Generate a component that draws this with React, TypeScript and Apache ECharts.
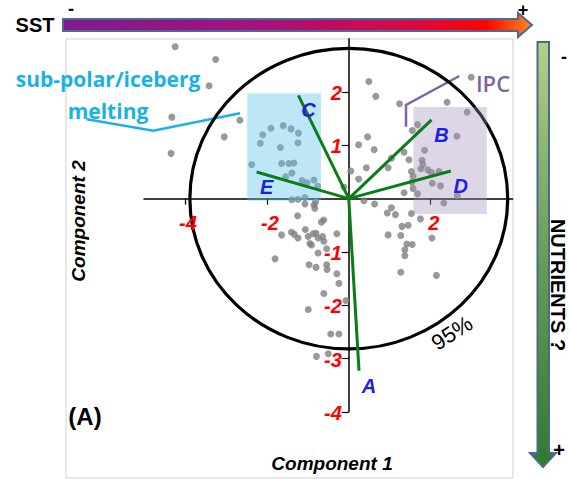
import React, { useEffect, useRef } from 'react';
import * as echarts from 'echarts';

// PCA sample scores (Component 1, Component 2)
const comp1 = [
  -4.24, -3.25, -3.41, -4.32, -2.66, -3.04, -4.34, -2.37,
  -2.10, -1.90, -1.60, -1.41, -1.23, -2.16, -1.24, -1.67, -1.64, -1.46, -1.34, -1.39, -1.54,
  -1.14, -1.02, -0.85, -0.76, -1.39, -1.24, -1.07, -0.81, -0.12, 0.05,
  -1.25, -1.07, -0.85, -0.83, -0.61, -0.67, -1.64, -1.40, -1.33, -1.24, -1.06, -0.99, -0.87,
  -0.80, -0.95, -0.91, -0.75, -0.64, -0.61, -0.29, -0.54, -0.75, -1.80, -0.97, -0.80, -0.54,
  -0.53, -0.29, -0.24, -0.61, -0.07, -0.99, -0.44, -0.24, -0.79, -0.50,
  0.49, 0.66, 1.24, 2.40, 2.99, 2.89, 1.68, 1.55, 2.64, 0.46, 0.24, 0.62, 1.85, 1.35, 1.04,
  1.47, 1.79, 1.81, 1.76, 1.93, 2.02, 0.43, 0.96, 1.53, 1.57, 2.20, 0.24, 1.54, 2.04, 2.24,
  1.57, 1.68, 1.35, 2.65, 0.37,
  0.63, 1.04, 0.94, 1.14, 1.53, 1.75, 2.32, 1.30, 1.45, 0.96, 1.27, 1.42, 1.55, 1.37, 1.37,
  2.03, 1.27, 2.14,
];
const comp2 = [
  2.85, 2.61, 2.12, 1.53, 1.47, 1.16, 0.85, 0.64,
  1.20, 1.32, 1.37, 1.31, 1.23, 1.04, 1.05, 0.96, 0.66, 0.66, 0.67, 0.48, 0.41,
  0.34, 0.30, 0.35, 0.23, -0.02, -0.01, 0.02, -0.06, 0.22, 0.52,
  -0.32, -0.10, -0.12, -0.18, -0.40, -0.44, -0.68, -0.63, -0.67, -0.74, -0.58, -0.71, -0.66,
  -0.65, -0.84, -0.87, -0.74, -0.71, -0.80, -0.66, -0.94, -1.02, -1.13, -1.24, -1.29, -1.24,
  -1.33, -1.41, -1.59, -1.78, -1.91, -2.08, -2.54, -2.54, -2.96, -2.91,
  2.20, 1.92, 1.78, 1.81, 2.28, 1.62, 1.39, 1.28, 1.17, 1.16, 1.01, 0.92, 0.91, 0.87, 0.76,
  0.73, 0.72, 0.64, 0.56, 0.54, 0.49, 0.58, 0.58, 0.51, 0.42, 0.51, 0.37, 0.31, 0.29, 0.24,
  0.19, 0.09, 0.11, 0.06, -0.04,
  -0.10, -0.17, -0.27, -0.30, -0.28, -0.38, -0.08, -0.52, -0.50, -0.68, -0.69, -0.85, -0.86, -0.96, -1.07,
  -0.74, -1.38, -1.44,
];

// Loading vectors
const vectorNames = ['A', 'B', 'C', 'D', 'E'];
const vectorX = [0.25, 2.02, -1.23, 2.49, -2.25];
const vectorY = [-3.23, 1.48, 1.94, 0.52, 0.5];

// 95% ellipse semi-axes (data units)
const ellipseRadii = [3.88, 2.82];

// Highlighted groups (boxes)
const boxNames = ['sub-polar/iceberg melting', 'IPC'];
const boxX0 = [-2.48, 1.58];
const boxX1 = [-0.68, 3.37];
const boxY0 = [-0.04, -0.29];
const boxY1 = [1.98, 1.72];

// Tick labels
const xTicks = [-4, -2, 2];
const yTicks = [-4, -3, -2, -1, 1, 2];

const boxColors = ['rgba(90,195,235,0.40)', 'rgba(158,141,189,0.36)'];
const FONT = '"Liberation Sans", Arial, sans-serif';

const tickTextStyle = {
  fill: '#FF0000',
  fontSize: 20,
  fontWeight: 'bold',
  fontStyle: 'italic',
  fontFamily: FONT,
  verticalAlign: 'middle',
};

export default function App() {
  const ref = useRef<HTMLDivElement>(null);
  useEffect(() => {
    if (!ref.current) return;
    const chart = echarts.init(ref.current, null, { renderer: 'svg' });
    const option: any = {
      animation: false,
      backgroundColor: '#ffffff',
      grid: { left: 144, top: 38.8, width: 368.6, height: 373 },
      xAxis: {
        type: 'value',
        min: -5,
        max: 4,
        z: 1,
        axisLine: { onZero: true, lineStyle: { color: '#000', width: 1.5 } },
        axisTick: { show: true, length: 6, customValues: xTicks, lineStyle: { color: '#000', width: 1.2 } },
        axisLabel: { show: false },
        splitLine: { show: false },
      },
      yAxis: {
        type: 'value',
        min: -4,
        max: 3,
        z: 1,
        axisLine: { onZero: true, lineStyle: { color: '#000', width: 1.5 } },
        axisTick: { show: true, length: 7, customValues: yTicks, lineStyle: { color: '#000', width: 1.2 } },
        axisLabel: { show: false },
        splitLine: { show: false },
      },
      series: [
        {
          type: 'custom',
          name: '95%',
          z: 2,
          data: [ellipseRadii],
          renderItem: (params: any, api: any) => {
            const c = api.coord([0, 0]);
            const s = api.size([api.value(0), api.value(1)]);
            return {
              type: 'ellipse',
              shape: { cx: c[0], cy: c[1], rx: s[0], ry: s[1] },
              style: { fill: 'none', stroke: '#000', lineWidth: 3.2 },
            };
          },
        },
        {
          type: 'scatter',
          name: 'samples',
          z: 3,
          symbolSize: 7,
          itemStyle: { color: '#808080' },
          data: comp1.map((x, i) => [x, comp2[i]]),
        },
        {
          type: 'custom',
          name: 'groups',
          z: 4,
          data: boxX0.map((x, i) => [x, boxY0[i], boxX1[i], boxY1[i]]),
          renderItem: (params: any, api: any) => {
            const p0 = api.coord([api.value(0), api.value(3)]);
            const p1 = api.coord([api.value(2), api.value(1)]);
            return {
              type: 'rect',
              name: boxNames[params.dataIndex],
              shape: { x: p0[0], y: p0[1], width: p1[0] - p0[0], height: p1[1] - p0[1] },
              style: { fill: boxColors[params.dataIndex] },
            };
          },
        },
        {
          type: 'custom',
          name: 'loadings',
          z: 5,
          data: vectorX.map((x, i) => [x, vectorY[i]]),
          renderItem: (params: any, api: any) => {
            const o = api.coord([0, 0]);
            const e = api.coord([api.value(0), api.value(1)]);
            return {
              type: 'group',
              children: [
                {
                  type: 'line',
                  shape: { x1: o[0], y1: o[1], x2: e[0], y2: e[1] },
                  style: { stroke: '#0B7D16', lineWidth: 3 },
                },
                {
                  type: 'text',
                  x: e[0] + 10,
                  y: e[1] + 15,
                  style: {
                    text: vectorNames[params.dataIndex],
                    fill: '#1E1EE6',
                    fontSize: 20,
                    fontWeight: 'bold',
                    fontStyle: 'italic',
                    fontFamily: FONT,
                    align: 'center',
                    verticalAlign: 'middle',
                  },
                },
              ],
            };
          },
        },
        {
          type: 'custom',
          name: 'xTickLabels',
          z: 6,
          data: xTicks.map((v) => [v, 0]),
          renderItem: (params: any, api: any) => {
            const p = api.coord([api.value(0), 0]);
            return {
              type: 'text',
              x: p[0] + 3,
              y: p[1] + 24,
              style: { ...tickTextStyle, text: String(xTicks[params.dataIndex]), align: 'center' },
            };
          },
        },
        {
          type: 'custom',
          name: 'yTickLabels',
          z: 6,
          data: yTicks.map((v) => [0, v]),
          renderItem: (params: any, api: any) => {
            const p = api.coord([0, api.value(1)]);
            return {
              type: 'text',
              x: p[0] - 7,
              y: p[1] + 1,
              style: { ...tickTextStyle, text: String(yTicks[params.dataIndex]), align: 'right' },
            };
          },
        },
      ],
      graphic: [
        {
          type: 'rect',
          z: -1,
          shape: { x: 66, y: 39, width: 447, height: 439 },
          style: { fill: 'none', stroke: '#D0D0D0', lineWidth: 1 },
        },
        {
          type: 'polygon',
          shape: {
            points: [[63, 19], [518, 19], [518, 13], [532, 25], [518, 37], [518, 31], [63, 31]],
          },
          style: {
            fill: new echarts.graphic.LinearGradient(0, 0, 1, 0, [
              { offset: 0, color: '#7E1C8C' },
              { offset: 0.45, color: '#A8107A' },
              { offset: 0.75, color: '#DC0840' },
              { offset: 0.9, color: '#FF0000' },
              { offset: 1, color: '#FF8A1E' },
            ]),
            stroke: '#4B6A92',
            lineWidth: 2,
          },
        },
        {
          type: 'polygon',
          shape: {
            points: [[537.5, 42], [549, 42], [549, 453], [556, 453], [543, 467], [530, 453], [537.5, 453]],
          },
          style: {
            fill: new echarts.graphic.LinearGradient(0, 0, 0, 1, [
              { offset: 0, color: '#B4CF8A' },
              { offset: 0.45, color: '#6FA25A' },
              { offset: 1, color: '#2E7A2E' },
            ]),
            stroke: '#4B6A92',
            lineWidth: 2,
          },
        },
        { type: 'text', x: 35, y: 25, style: { text: 'SST', fill: '#000', fontSize: 20, fontWeight: 'bold', fontFamily: FONT, align: 'center', verticalAlign: 'middle' } },
        { type: 'text', x: 71, y: 9, style: { text: '-', fill: '#000', fontSize: 18, fontWeight: 'bold', fontFamily: FONT, align: 'center', verticalAlign: 'middle' } },
        { type: 'text', x: 523, y: 10, style: { text: '+', fill: '#000', fontSize: 18, fontWeight: 'bold', fontFamily: FONT, align: 'center', verticalAlign: 'middle' } },
        { type: 'text', x: 564, y: 57, style: { text: '-', fill: '#000', fontSize: 18, fontWeight: 'bold', fontFamily: FONT, align: 'center', verticalAlign: 'middle' } },
        { type: 'text', x: 559, y: 450, style: { text: '+', fill: '#000', fontSize: 20, fontWeight: 'bold', fontFamily: FONT, align: 'center', verticalAlign: 'middle' } },
        { type: 'text', x: 558, y: 285, rotation: -Math.PI / 2, style: { text: 'NUTRIENTS ?', fill: '#000', fontSize: 20, fontWeight: 'bold', fontFamily: FONT, align: 'center', verticalAlign: 'middle' } },
        { type: 'text', x: 332, y: 463, style: { text: 'Component 1', fill: '#000', fontSize: 19, fontWeight: 'bold', fontStyle: 'italic', fontFamily: FONT, align: 'center', verticalAlign: 'middle' } },
        { type: 'text', x: 78, y: 221, rotation: Math.PI / 2, style: { text: 'Component 2', fill: '#000', fontSize: 19, fontWeight: 'bold', fontStyle: 'italic', fontFamily: FONT, align: 'center', verticalAlign: 'middle' } },
        { type: 'text', x: 85, y: 416, style: { text: '(A)', fill: '#000', fontSize: 24, fontWeight: 'bold', fontFamily: FONT, align: 'center', verticalAlign: 'middle' } },
        { type: 'text', x: 452, y: 333, rotation: 0.57, style: { text: '95%', fill: '#000', fontSize: 22, fontFamily: FONT, align: 'center', verticalAlign: 'middle' } },
        { type: 'text', x: 108, y: 79, style: { text: 'sub-polar/iceberg', fill: '#1AB0E8', fontSize: 21, fontWeight: 'bold', fontFamily: '"Open Sans", sans-serif', align: 'center', verticalAlign: 'middle' } },
        { type: 'text', x: 108, y: 111, style: { text: 'melting', fill: '#1AB0E8', fontSize: 21, fontWeight: 'bold', fontFamily: '"Open Sans", sans-serif', align: 'center', verticalAlign: 'middle' } },
        { type: 'text', x: 493, y: 83, style: { text: 'IPC', fill: '#8064A2', fontSize: 22, fontWeight: 600, fontFamily: '"Open Sans", sans-serif', align: 'center', verticalAlign: 'middle' } },
        { type: 'polyline', shape: { points: [[86.7, 119.3], [153.3, 130.7], [240, 113.3]] }, style: { fill: 'none', stroke: '#1AB0E8', lineWidth: 2.5 } },
        { type: 'polyline', shape: { points: [[406, 126.7], [406, 105], [459.3, 76]] }, style: { fill: 'none', stroke: '#8064A2', lineWidth: 2.5 } },
      ],
    };
    chart.setOption(option);
    return () => chart.dispose();
  }, []);
  return (
    <div
      ref={ref}
      style={{ position: 'fixed', left: 0, top: 0, width: 570, height: 479, background: '#fff' }}
    />
  );
}
